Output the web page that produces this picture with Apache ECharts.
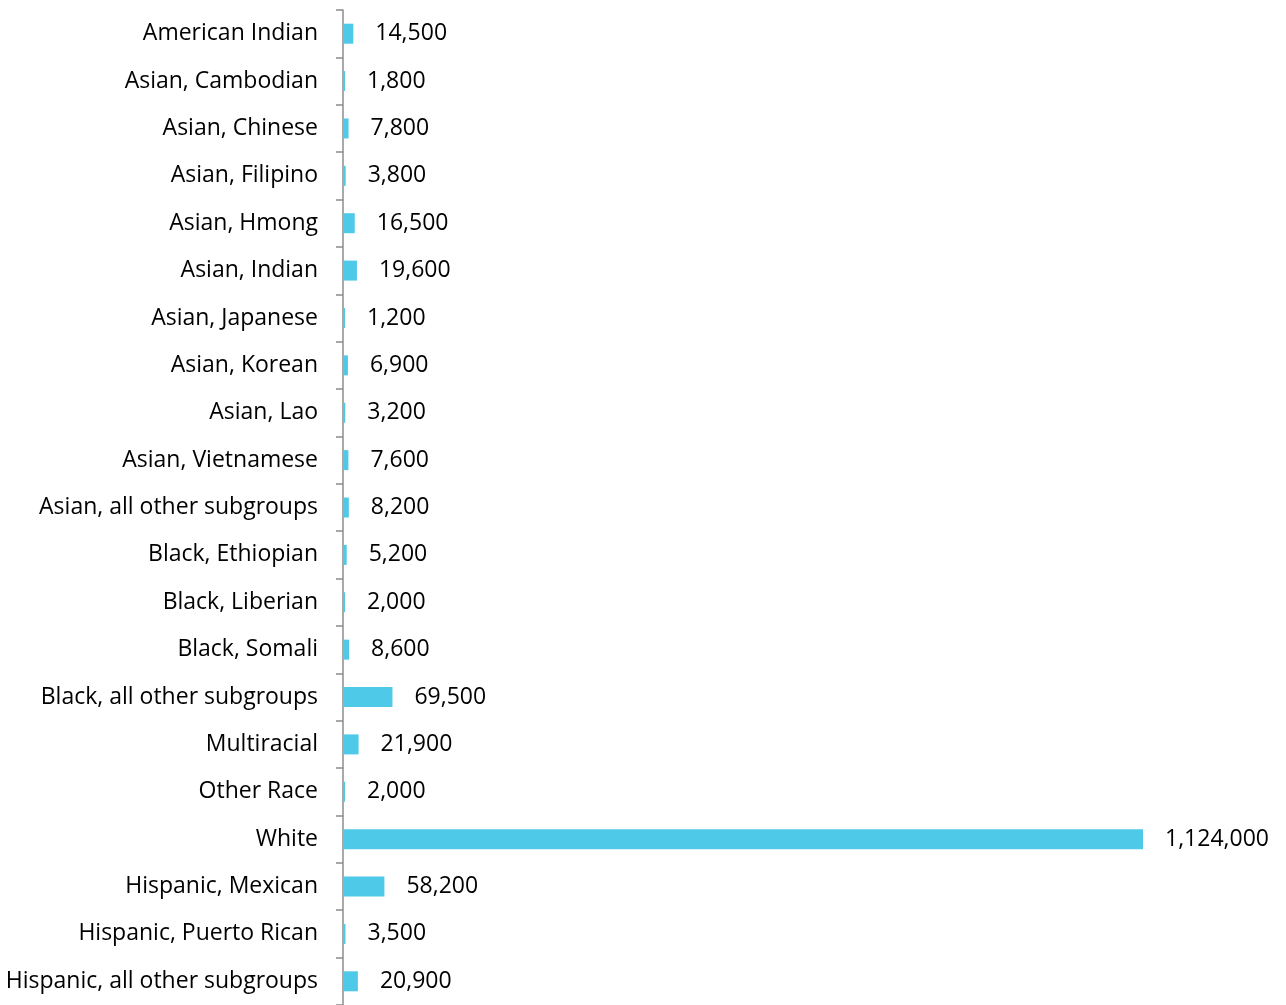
<!DOCTYPE html>
<html>
<head>
<meta charset="utf-8">
<script src="https://cdn.jsdelivr.net/npm/echarts@6/dist/echarts.min.js"></script>
<style>
    html, body { margin: 0; padding: 0; background: #fff; }
    #chart { width: 1286px; height: 1005px; }
</style>
</head>
<body>
<div id="chart"></div>
<script>
(function (){
    const categories = [
        "American Indian",
        "Asian, Cambodian",
        "Asian, Chinese",
        "Asian, Filipino",
        "Asian, Hmong",
        "Asian, Indian",
        "Asian, Japanese",
        "Asian, Korean",
        "Asian, Lao",
        "Asian, Vietnamese",
        "Asian, all other subgroups",
        "Black, Ethiopian",
        "Black, Liberian",
        "Black, Somali",
        "Black, all other subgroups",
        "Multiracial",
        "Other Race",
        "White",
        "Hispanic, Mexican",
        "Hispanic, Puerto Rican",
        "Hispanic, all other subgroups"
    ]
    const values = [
        14500, 1800, 7800, 3800, 16500, 19600, 1200, 6900, 3200, 7600,
        8200, 5200, 2000, 8600, 69500, 21900, 2000, 1124000, 58200, 3500, 20900
    ]

    const myChart = echarts.init(document.getElementById("chart"))

    const option = {
        animation : false,
        textStyle : {
            fontFamily : "Open Sans"
        },
        grid : {
            left : 343,
            top : 10,
            right : 143,
            height : 997,
            containLabel : false
        },
        xAxis : {
            type : 'value',
            min : 0,
            max : 1124000,
            show : false
        },
        yAxis : {
            type : 'category',
            inverse : true,
            data : categories,
            axisLine : {
                lineStyle : {
                    color : '#8c8c8c',
                    width : 1.5
                }
            },
            axisTick : {
                show : true,
                alignWithLabel : false,
                length : 7,
                lineStyle : {
                    color : '#8c8c8c',
                    width : 1.5
                }
            },
            axisLabel : {
                margin : 25,
                color : '#000',
                fontSize : 23,
                fontFamily : "Open Sans",
                padding : [8, 0, 0, 0]
            }
        },
        series : [
            {
                type : 'bar',
                data : values,
                barWidth : 20,
                barMinHeight : 2,
                itemStyle : {
                    color : '#4fc9e8'
                },
                label : {
                    show : true,
                    position : 'right',
                    distance : 22,
                    color : '#000',
                    fontSize : 23,
                    fontFamily : "Open Sans",
                    padding : [8, 0, 0, 0],
                    formatter : function (p) {
                        return p.value.toLocaleString('en-US')
                    }
                }
            }
        ]
    }

    myChart.setOption(option)
})();
</script>
</body>
</html>
